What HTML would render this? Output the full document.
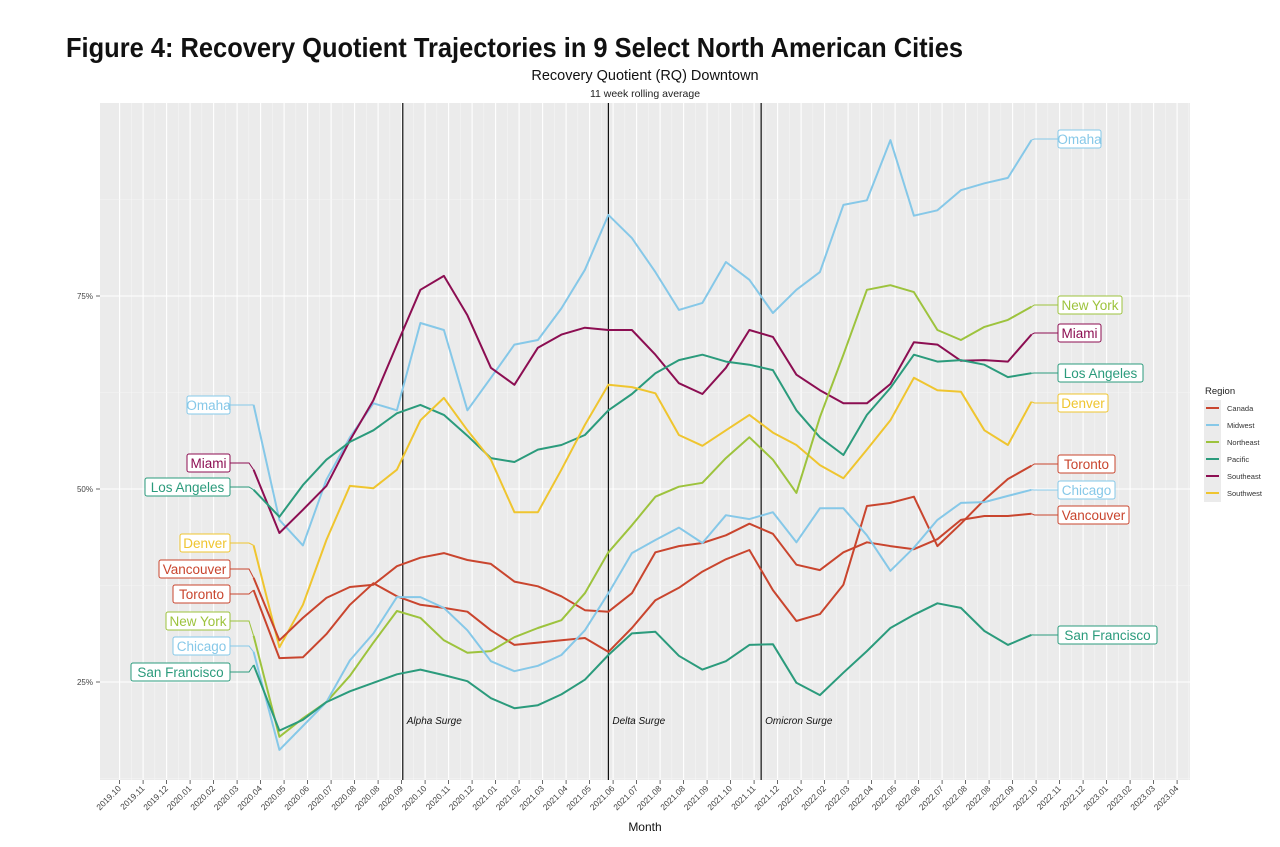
<!DOCTYPE html>
<html><head><meta charset="utf-8"><style>
body{margin:0;background:#fff;}
svg{display:block;font-family:"Liberation Sans",sans-serif;}
</style></head><body>
<svg id="chart" width="1280" height="847" viewBox="0 0 1280 847">
<text x="66" y="57" font-family="'Liberation Sans Narrow','Liberation Sans',sans-serif" font-weight="bold" font-size="28" textLength="897" lengthAdjust="spacingAndGlyphs" fill="#111">Figure 4: Recovery Quotient Trajectories in 9 Select North American Cities</text>
<text x="645" y="80" text-anchor="middle" font-size="14.5" fill="#111">Recovery Quotient (RQ) Downtown</text>
<text x="645" y="97" text-anchor="middle" font-size="10.5" fill="#222">11 week rolling average</text>
<rect x="100" y="103" width="1090" height="677" fill="#EBEBEB"/>
<g id="grid"></g><g id="vlines"></g><g id="series"></g><g id="labels"></g><g id="axes"></g>
<text x="645" y="831" text-anchor="middle" font-size="12" fill="#111">Month</text>
<g id="legend"></g>
</svg>
<script>
const tickLabels = ["2019.10","2019.11","2019.12","2020.01","2020.02","2020.03","2020.04","2020.05","2020.06","2020.07","2020.08","2020.08","2020.09","2020.10","2020.11","2020.12","2021.01","2021.02","2021.03","2021.04","2021.05","2021.06","2021.07","2021.08","2021.08","2021.09","2021.10","2021.11","2021.12","2022.01","2022.02","2022.03","2022.04","2022.05","2022.06","2022.07","2022.08","2022.08","2022.09","2022.10","2022.11","2022.12","2023.01","2023.02","2023.03","2023.04"];
const yTicks = [25,50,75];
const yTickLabels = ["25%","50%","75%"];
const surgeNames = ["Alpha Surge","Delta Surge","Omicron Surge"];
const surgeAt = [12.05,20.8,27.3];
const months = [5.7,6.8,7.8,8.8,9.8,10.8,11.8,12.8,13.8,14.8,15.8,16.8,17.8,18.8,19.8,20.8,21.8,22.8,23.8,24.8,25.8,26.8,27.8,28.8,29.8,30.8,31.8,32.8,33.8,34.8,35.8,36.8,37.8,38.8];
const cities = ["Omaha","Miami","Los Angeles","Denver","Vancouver","Toronto","New York","Chicago","San Francisco"];
const regions = ["Midwest","Southeast","Pacific","Southwest","Canada","Canada","Northeast","Midwest","Pacific"];
const omaha = [60.9,46.0,42.7,51.2,56.7,61.1,60.2,71.5,70.6,60.2,64.4,68.7,69.3,73.4,78.4,85.5,82.5,78.1,73.2,74.1,79.4,77.1,72.8,75.8,78.1,86.8,87.4,95.2,85.4,86.1,88.7,89.6,90.3,95.2];
const miami = [52.5,44.3,47.3,50.4,56.3,61.5,68.7,75.8,77.6,72.5,65.7,63.5,68.3,70.0,70.9,70.6,70.6,67.4,63.7,62.3,65.7,70.6,69.7,64.8,62.8,61.1,61.1,63.6,69.0,68.7,66.6,66.7,66.5,70.0];
const losAngeles = [49.9,46.4,50.5,53.8,56.1,57.6,59.8,60.9,59.6,56.9,54.0,53.5,55.1,55.7,57.0,60.2,62.3,65.0,66.7,67.4,66.5,66.1,65.4,60.2,56.7,54.4,59.6,63.1,67.4,66.5,66.7,66.1,64.5,65.0];
const denver = [42.7,29.5,35.0,43.4,50.4,50.1,52.5,58.9,61.8,57.6,53.8,47.0,47.0,52.5,58.3,63.5,63.2,62.4,57.0,55.6,57.6,59.6,57.3,55.7,53.1,51.4,55.1,58.9,64.4,62.8,62.6,57.6,55.7,61.3];
const vancouver = [38.5,30.4,33.3,35.9,37.3,37.6,40.0,41.1,41.7,40.8,40.3,38.0,37.4,36.1,34.3,34.1,36.5,41.8,42.6,43.0,44.0,45.5,44.2,40.2,39.5,41.8,43.1,42.6,42.2,43.5,46.0,46.5,46.5,46.8];
const toronto = [36.9,28.1,28.2,31.2,35.0,37.8,36.1,35.0,34.6,34.1,31.7,29.8,30.1,30.4,30.7,28.9,32.0,35.6,37.2,39.3,40.9,42.1,36.9,32.9,33.8,37.6,47.8,48.2,49.0,42.6,45.5,48.6,51.3,53.0];
const newYork = [31.0,17.9,20.3,22.4,25.8,30.1,34.2,33.3,30.4,28.8,29.0,30.8,32.0,33.0,36.5,41.8,45.3,49.0,50.3,50.8,54.0,56.7,53.8,49.5,59.3,67.4,75.8,76.4,75.5,70.6,69.3,71.0,71.9,73.6];
const chicago = [28.9,16.2,19.3,22.4,27.8,31.3,36.0,36.0,34.6,31.7,27.7,26.4,27.1,28.5,31.7,36.5,41.7,43.4,45.0,43.0,46.6,46.1,47.0,43.1,47.5,47.5,44.0,39.4,42.4,46.0,48.2,48.3,49.1,49.9];
const sanFrancisco = [27.2,18.7,20.1,22.4,23.8,24.9,26.0,26.6,25.9,25.1,22.9,21.6,22.0,23.4,25.3,28.5,31.3,31.5,28.4,26.6,27.7,29.8,29.9,24.9,23.3,26.2,29.0,32.0,33.7,35.2,34.6,31.6,29.8,31.1];
const leftLabelY = [405,463,487,543,569,594,621,646,672];
const rightLabelY = [139,333,373,403,515,464,305,490,635];
const legendNames = ["Canada","Midwest","Northeast","Pacific","Southeast","Southwest"];

const colors = {Canada:"#C9452E",Midwest:"#86C8E8",Northeast:"#9DC33D",Pacific:"#2B9B7C",Southeast:"#8C0E52",Southwest:"#EFC52F"};
const seriesVals = [omaha,miami,losAngeles,denver,vancouver,toronto,newYork,chicago,sanFrancisco];
const NS="http://www.w3.org/2000/svg";
function X(t){return 119.6+23.5*t;}
function Y(v){return 296-(v-75)*7.72;}
function mk(tag,attrs,parent){const e=document.createElementNS(NS,tag);for(const k in attrs)e.setAttribute(k,attrs[k]);parent.appendChild(e);return e;}
const grid=document.getElementById('grid');
for(let i=0;i<tickLabels.length;i++){
  const l=mk('line',{x1:X(i),x2:X(i),y1:103,y2:780,stroke:'#fff','stroke-width':1.1},grid);
  
  
  const m=mk('line',{x1:X(i)+11.75,x2:X(i)+11.75,y1:103,y2:780,stroke:'#f5f5f5','stroke-width':0.6},grid);
  
  
}
[12.5,37.5,62.5,87.5].forEach(v=>{const l=mk('line',{x1:100,x2:1190,y1:Y(v),y2:Y(v),stroke:'#f5f5f5','stroke-width':0.6},grid);
  
  });
const axes=document.getElementById('axes');
yTicks.forEach((v,i)=>{
  const l=mk('line',{x1:100,x2:1190,y1:Y(v),y2:Y(v),stroke:'#fff','stroke-width':1.1},grid);
  
  
  mk('line',{x1:96,x2:100,y1:Y(v),y2:Y(v),stroke:'#444','stroke-width':0.8},axes);
  const t=mk('text',{x:93,y:Y(v)+3,'text-anchor':'end','font-size':8,fill:'#444'},axes);
  t.textContent=yTickLabels[i];
  
  
});
tickLabels.forEach((s,i)=>{
  mk('line',{x1:X(i),x2:X(i),y1:780,y2:784,stroke:'#444','stroke-width':0.8},axes);
  const t=mk('text',{x:X(i)+2,y:789,'text-anchor':'end','font-size':8.5,fill:'#444',transform:`rotate(-45 ${X(i)+2} 789)`},axes);
  t.textContent=s;
  
  
});
const vl=document.getElementById('vlines');
surgeAt.forEach((m,i)=>{
  const l=mk('line',{x1:X(m),x2:X(m),y1:103,y2:780,stroke:'#111','stroke-width':1.2},vl);
  
  
  const t=mk('text',{x:X(m)+4,y:724,'font-size':10,'font-style':'italic',fill:'#111'},vl);
  t.textContent=surgeNames[i];
  
  
});
const sg=document.getElementById('series'), lg=document.getElementById('labels');
seriesVals.forEach((vals,si)=>{
  const c=colors[regions[si]];
  const pts=vals.map((v,k)=>X(months[k]).toFixed(1)+','+Y(v).toFixed(1));
  const p=mk('polyline',{points:pts.join(' '),fill:'none',stroke:c,'stroke-width':2,'stroke-linejoin':'round'},sg);
  
  
  const ly=leftLabelY[si], ry=rightLabelY[si];
  const x0=X(months[0]), y0=Y(vals[0]);
  const xe=X(months[months.length-1]), ye=Y(vals[vals.length-1]);
  mk('polyline',{points:`230,${ly} 249,${ly} ${x0},${y0}`,fill:'none',stroke:c,'stroke-width':1},lg);
  mk('polyline',{points:`${xe},${ye} ${xe+3},${ry} 1058,${ry}`,fill:'none',stroke:c,'stroke-width':1},lg);
  const w=cities[si].length*7.0+8;
  [[230-w,ly,'left'],[1058,ry,'right']].forEach(([bx,by,side])=>{
    const r=mk('rect',{x:bx,y:by-9,width:w,height:18,rx:2,fill:'#fff',stroke:c,'stroke-width':1},lg);
    
    
    const t=mk('text',{x:bx+w/2,y:by+5,'text-anchor':'middle','font-size':13.5,fill:c},lg);
    t.textContent=cities[si];
    
    
  });
});
const leg=document.getElementById('legend');
const lt=mk('text',{x:1205,y:394,'font-size':9.5,fill:'#222'},leg);
lt.textContent='Region';


legendNames.forEach((n,i)=>{
  const y=408+17*i;
  mk('rect',{x:1204,y:y-8,width:17,height:17,fill:'#EBEBEB'},leg);
  const l=mk('line',{x1:1206,x2:1219,y1:y,y2:y,stroke:colors[n],'stroke-width':2},leg);
  
  
  const t=mk('text',{x:1227,y:y+3,'font-size':7.5,fill:'#333'},leg);
  t.textContent=n;
  
  
});
</script>
</body></html>
